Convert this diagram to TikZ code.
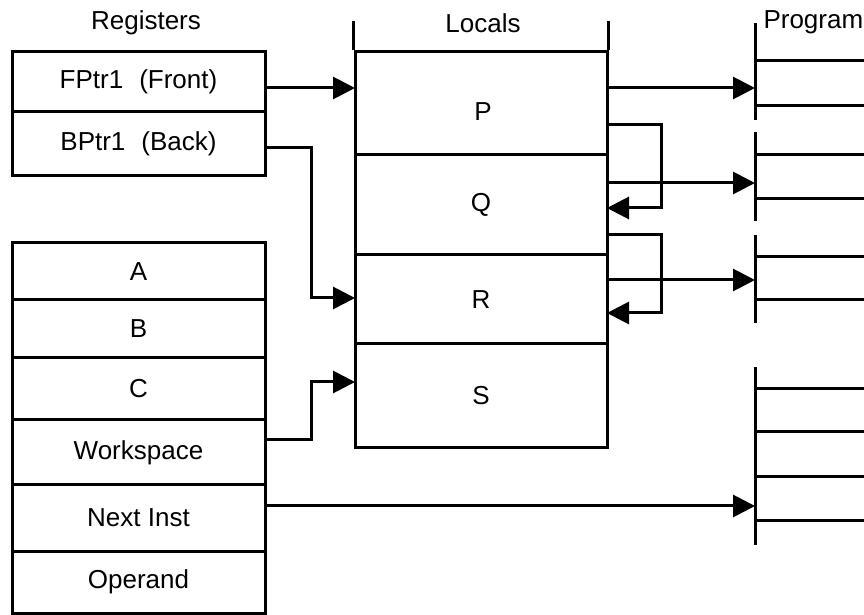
\documentclass[tikz,border=0pt]{standalone}
\usepackage{fontspec}
\setmainfont{Liberation Sans}
\usetikzlibrary{arrows.meta}

\begin{document}
\begin{tikzpicture}[x=0.5pt,y=-0.5pt,>={Triangle[length=11pt,width=11pt]},line width=1.5pt,font=\fontsize{13}{15}\selectfont]

        \tikzstyle{reg} = [draw, rectangle, minimum width=126.5pt, inner sep=0pt, text centered];
        \tikzstyle{local} = [draw, rectangle, minimum width=126pt, inner sep=0pt, text centered];
        \tikzstyle{wire} = [draw, ->];

        \useasboundingbox (0,0) rectangle (864,615);

        % registers
        \node (regtitle) at (146,23) {Registers};
        \node[reg, minimum height=30pt] (fptr) at (138.5,82) {FPtr1\hspace{8pt}(Front)};
        \node[reg, minimum height=32pt] (bptr) at (138.5,144) {BPtr1\hspace{8pt}(Back)};
        \node[reg, minimum height=28.5pt] (a) at (138.5,271.5) {A};
        \node[reg, minimum height=29pt] (b) at (138.5,329) {B};
        \node[reg, minimum height=31pt] (c) at (138.5,389) {C};
        \node[reg, minimum height=32.5pt] (ws) at (138.5,452.5) {Workspace};
        \node[reg, minimum height=33pt] (ni) at (138.5,518) {Next Inst};
        \node[reg, minimum height=31pt] (op) at (138.5,582) {Operand};

        % locals
        \node (loctitle) at (483,23) {Locals};
        \node[local, minimum height=51.5pt] (p) at (481,103.5) {};
        \node (ptext) at (483,112) {P};
        \node[local, minimum height=50pt] (q) at (481,205) {Q};
        \node[local, minimum height=44.5pt] (r) at (481,299.5) {R};
        \node[local, minimum height=52pt] (s) at (481,396) {S};
        \draw (p.north west) -- ++(0,-29);
        \draw (p.north east) -- ++(0,-29);

        % program
        \node[anchor=west, inner sep=0pt] (progtitle) at (762,22) {Program};
        \foreach \a/\b in {23/120, 132/221, 235/323, 367/545}
            \draw (755,\a) -- (755,\b);
        \foreach \y in {61, 106, 155, 199, 257, 300, 389, 432, 477, 521}
            \draw (755,\y) -- (864,\y);
        \coordinate (prog1) at (755,88);
        \coordinate (prog2) at (755,183);
        \coordinate (prog3) at (755,280);
        \coordinate (prog4) at (755,506);

        \coordinate (p in) at (355,88);
        \coordinate (r in) at (355,298);
        \coordinate (s in) at (355,382);
        \coordinate (q back) at (607,208);
        \coordinate (r back) at (607,313);

        \path[wire] ([yshift=-3pt]fptr.east) -- (p in);
        \path[wire] ([yshift=-2pt]bptr.east) -- ++(45,0) |- (r in);
        \path[wire] ([yshift=6.25pt]ws.east) -- ++(45,0) |- (s in);
        \path[wire] ([yshift=6pt]ni.east) -- (prog4);

        \path[wire] ([yshift=7.75pt]p.east) -- (prog1);
        \path[wire] ([yshift=11pt]q.east) -- (prog2);
        \path[wire] ([yshift=9.75pt]r.east) -- (prog3);
        \path[wire] ([yshift=-10.75pt]p.east) -- ++(53,0) |- (q back);
        \path[wire] ([yshift=-15pt]q.east) -- ++(53,0) |- (r back);

    \end{tikzpicture}
\end{document}
